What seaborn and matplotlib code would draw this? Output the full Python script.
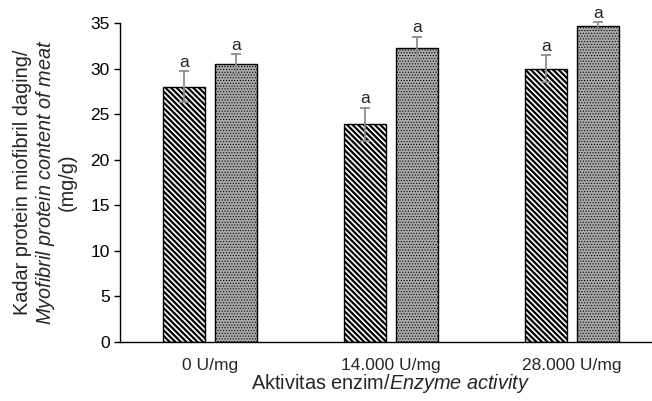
import seaborn as sns
import matplotlib.pyplot as plt
import pandas as pd

# Data
activities = ['0 U/mg', '14.000 U/mg', '28.000 U/mg']
series = ['A', 'B']
values_a = [28.0, 23.9, 30.0]
values_b = [30.5, 32.3, 34.7]
err_a = [1.7, 1.8, 1.5]
err_b = [1.1, 1.2, 0.4]
letters_a = ['a', 'a', 'a']
letters_b = ['a', 'a', 'a']

df = pd.DataFrame({
    'Activity': activities * 2,
    'Value': values_a + values_b,
    'Series': [series[0]] * 3 + [series[1]] * 3,
})

sns.set_style("white")
plt.rcParams['font.family'] = ['Liberation Sans', 'DejaVu Sans']
plt.rcParams['mathtext.fontset'] = 'custom'
plt.rcParams['mathtext.rm'] = 'Liberation Sans'
plt.rcParams['mathtext.it'] = 'Liberation Sans:italic'
plt.rcParams['hatch.linewidth'] = 1.6

fig = plt.figure(figsize=(6.52, 4.01), dpi=100)
ax = fig.add_axes([119.5 / 652, 1 - 342 / 401, 543 / 652, 319 / 401])

sns.barplot(data=df, x='Activity', y='Value', hue='Series', order=activities,
            hue_order=series, width=0.574, gap=0.19, errorbar=None,
            palette=['white', '#a9a9a9'], edgecolor='black', linewidth=1.0,
            legend=False, ax=ax)

bars = ax.patches
hatches = ['\\' * 6] * 3 + ['.' * 6] * 3
for i, (p, h) in enumerate(zip(bars, hatches)):
    p.set_hatch(h)
    if i >= 3 and hasattr(p, 'set_hatch_linewidth'):
        p.set_hatch_linewidth(0.5)

xs = [p.get_x() + p.get_width() / 2 for p in bars]
tops = values_a + values_b
errs = err_a + err_b
letters = letters_a + letters_b
eb = ax.errorbar(xs, tops, yerr=errs, fmt='none', ecolor='#8c8c8c',
                 elinewidth=1.3, capsize=3.3, capthick=1.3, zorder=5)
for art in eb.lines[1] + eb.lines[2]:
    art.set_clip_on(False)
for x, t, e, s in zip(xs, tops, errs, letters):
    ax.annotate(s, (x, t + e), xytext=(0, 1), textcoords='offset points',
                ha='center', va='bottom', fontsize=12.5, color='#262626',
                annotation_clip=False)

ax.set_ylim(0, 35)
ax.set_xlim(-0.5, 2.5)
ax.set_yticks(range(0, 36, 5))
ax.tick_params(axis='y', left=True, length=4, width=1, labelsize=12.5,
               colors='black', pad=3)
ax.tick_params(axis='x', bottom=False, labelsize=12.5, pad=8)
for s in ['top', 'right']:
    ax.spines[s].set_visible(False)
for s in ['left', 'bottom']:
    ax.spines[s].set_color('black')
    ax.spines[s].set_linewidth(1)

ax.set_xlabel('Aktivitas enzim/$\\it{Enzyme\\ activity}$', fontsize=14.3,
              labelpad=-1)
ax.set_ylabel('Kadar protein miofibril daging/\n'
              '$\\it{Myofibril\\ protein\\ content\\ of\\ meat}$\n(mg/g)',
              fontsize=14.3, labelpad=9.5, linespacing=1.1)

fig.savefig('out.png', dpi=100)
plt.close(fig)
